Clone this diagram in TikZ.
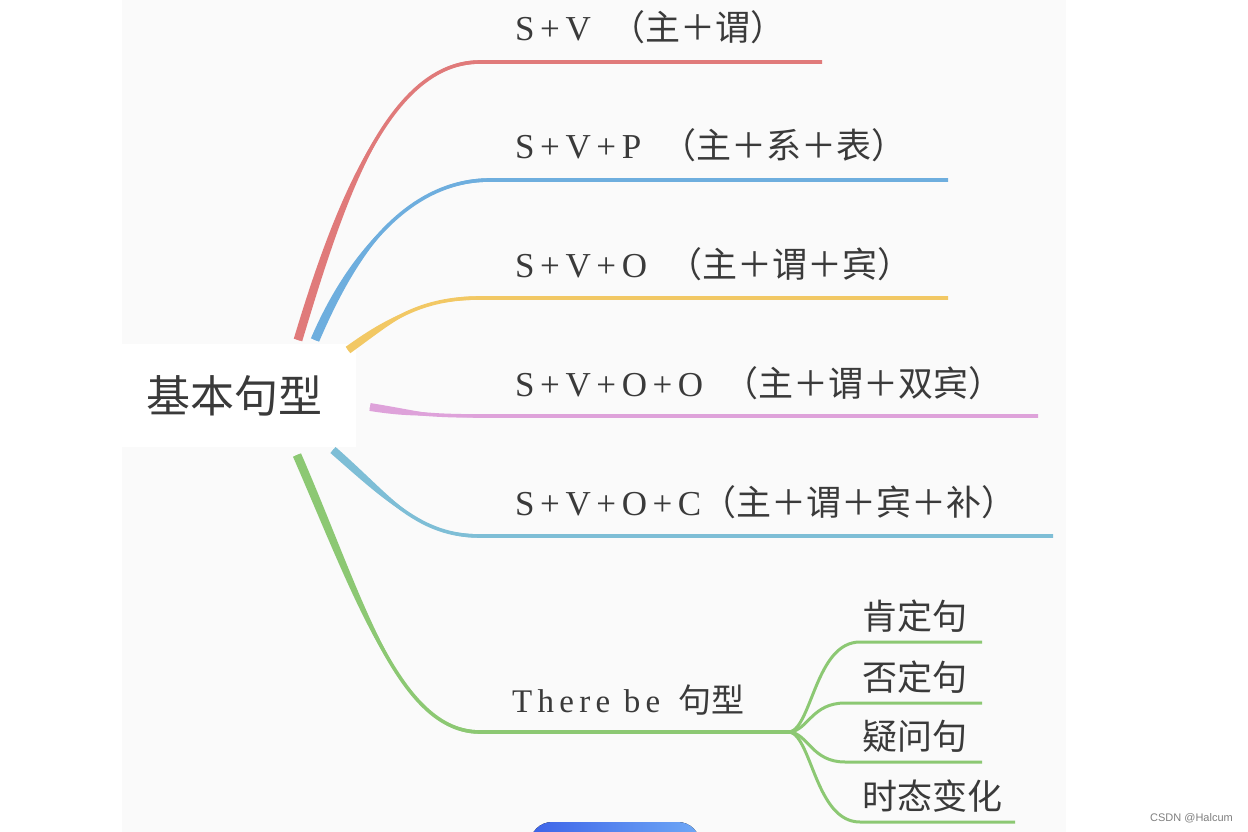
\documentclass[tikz,border=0pt]{standalone}
\usepackage{fontspec}
\usetikzlibrary{calc}
\setmainfont{Liberation Serif}
\newfontfamily\cjk{Noto Sans CJK SC}
\newfontfamily\lat{Liberation Serif}[LetterSpace=16]
\newfontfamily\wmfont{Liberation Sans}
\definecolor{ink}{RGB}{58,58,58}
\definecolor{panel}{RGB}{250,250,250}
\definecolor{bred}{RGB}{224,122,122}
\definecolor{bblue}{RGB}{110,174,222}
\definecolor{byellow}{RGB}{242,200,100}
\definecolor{bpink}{RGB}{222,162,218}
\definecolor{bteal}{RGB}{126,190,214}
\definecolor{bgreen}{RGB}{140,200,115}

% tapered branch: colour, start, half width at start, c1, c2, bend, end
\newcommand{\twig}[7]{%
  \draw[#1, line width=3.6pt] (#2) .. controls (#4) and (#5) .. (#6) -- (#7);
  \fill[#1] ($(#2)+(#3)$) .. controls ($(#4)+(#3)$) and ($(#5)+(0,-1.8)$) .. ($(#6)+(0,-1.8)$)
    -- ($(#6)+(0,1.8)$) .. controls ($(#5)+(0,1.8)$) and ($(#4)-(#3)$) .. ($(#2)-(#3)$) -- cycle;}

\begin{document}
\begin{tikzpicture}[x=1pt, y=-1pt,
    lbl/.style={anchor=base west, inner sep=0pt, text=ink, font=\fontsize{35}{40}\selectfont},
    leaf/.style={lbl, font=\cjk\fontsize{35}{40}\selectfont},
    sub/.style={draw=bgreen, line width=3pt}]
    \useasboundingbox (0,0) rectangle (1248,832);
    \clip (0,0) rectangle (1248,832);
    % page and panel
    \fill[white] (0,0) rectangle (1248,832);
    \fill[panel] (122,0) rectangle (1066,832);

    % root
    \node[anchor=base west, fill=white, minimum width=244pt, inner ysep=31pt, text=ink,
          font=\cjk\fontsize{44}{50}\selectfont] (root) at (112,412) {基本句型};

    % branch ends
    \coordinate (s1) at (298,340); \coordinate (b1) at (480,62);  \coordinate (e1) at (822,62);
    \coordinate (s2) at (315,340); \coordinate (b2) at (490,180); \coordinate (e2) at (948,180);
    \coordinate (s3) at (348,350); \coordinate (b3) at (480,298); \coordinate (e3) at (948,298);
    \coordinate (s4) at (370,407); \coordinate (b4) at (490,416); \coordinate (e4) at (1038,416);
    \coordinate (s5) at (333,450); \coordinate (b5) at (480,536); \coordinate (e5) at (1053,536);
    \coordinate (s6) at (297,455); \coordinate (b6) at (480,732); \coordinate (hub) at (790,732);

    \twig{bred}{s1}{4.2,1.3}{340,200}{390,62}{b1}{e1}
    \twig{bblue}{s2}{4.1,1.7}{345,270}{400,180}{b2}{e2}
    \twig{byellow}{s3}{2.3,3.2}{390,320}{420,298}{b3}{e3}
    \twig{bpink}{s4}{-0.6,3.9}{420,415}{440,416}{b4}{e4}
    \twig{bteal}{s5}{-2.6,3}{390,500}{420,536}{b5}{e5}
    \twig{bgreen}{s6}{-4,1.7}{360,600}{400,732}{b6}{hub}

    % branch labels
    \node[lbl] (l1) at (515,41)  {{\lat S+V}\hspace{20pt}{\cjk （主＋谓）}};
    \node[lbl] (l2) at (515,159) {{\lat S+V+P}\hspace{20pt}{\cjk （主＋系＋表）}};
    \node[lbl] (l3) at (515,277) {{\lat S+V+O}\hspace{20pt}{\cjk （主＋谓＋宾）}};
    \node[lbl] (l4) at (515,396) {{\lat S+V+O+O}\hspace{20pt}{\cjk （主＋谓＋双宾）}};
    \node[lbl] (l5) at (515,515) {{\lat S+V+O+C}{\cjk （主＋谓＋宾＋补）}};
    \node[lbl, font=\fontsize{33}{38}\selectfont] (tb) at (512,712) {{\lat There be}\hspace{18pt}{\cjk 句型}};

    % there be leaves
    \coordinate (f1) at (982,642); \coordinate (f2) at (982,703);
    \coordinate (f3) at (982,762); \coordinate (f4) at (1015,822);
    \draw[sub] (hub) .. controls (812,726) and (816,642) .. (860,642) -- (f1);
    \draw[sub] (hub) .. controls (808,730) and (812,703) .. (845,703) -- (f2);
    \draw[sub] (hub) .. controls (808,734) and (812,762) .. (845,762) -- (f3);
    \draw[sub] (hub) .. controls (812,738) and (816,822) .. (860,822) -- (f4);
    \node[leaf] (k1) at (862,629) {肯定句};
    \node[leaf] (k2) at (862,690) {否定句};
    \node[leaf] (k3) at (862,749) {疑问句};
    \node[leaf] (k4) at (862,809) {时态变化};

    % bottom tab and watermark
    \fill[left color={rgb,255:red,61;green,99;blue,232}, right color={rgb,255:red,110;green,168;blue,246},
          rounded corners=22pt] (530,822) rectangle (700,880);
    \node[anchor=base east, inner sep=0pt, text=gray, font=\wmfont\fontsize{11}{13}\selectfont] (wm) at (1233,821) {CSDN @Halcum};
\end{tikzpicture}
\end{document}
